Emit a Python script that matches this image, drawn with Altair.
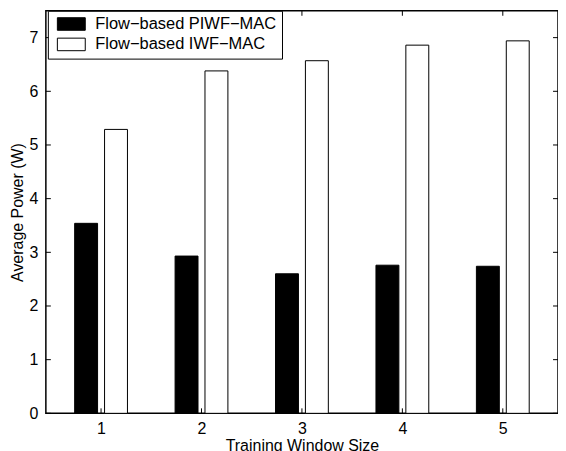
import altair as alt
import pandas as pd

windows = [1, 2, 3, 4, 5]
piwf = [3.54, 2.93, 2.60, 2.76, 2.74]
iwf = [5.29, 6.38, 6.57, 6.86, 6.94]
series_names = ["Flow\u2212based PIWF\u2212MAC", "Flow\u2212based IWF\u2212MAC"]
y_ticks = [0, 1, 2, 3, 4, 5, 6, 7]
x_ticks = [1, 2, 3, 4, 5]

FONT = "Liberation Sans"
W, H = 514, 404

df = pd.DataFrame({
    "window": windows * 2,
    "power": piwf + iwf,
    "series": [series_names[0]] * 5 + [series_names[1]] * 5,
})
ydf = pd.DataFrame({"window": [0.5] * len(y_ticks), "power": y_ticks})
xdf = pd.DataFrame({"window": x_ticks, "power": [0] * len(x_ticks)})

xscale = alt.Scale(domain=[0.5, 5.5], nice=False, zero=False)
yscale = alt.Scale(domain=[0, 7.5], nice=False)

color = alt.Color(
    "series:N",
    scale=alt.Scale(domain=series_names, range=["black", "white"]),
    sort=series_names,
    legend=alt.Legend(
        title=None,
        orient="none",
        legendX=2,
        legendY=0,
        symbolType="M-0.53,-0.9H3.47V0.9H-0.53Z",
        symbolSize=196,
        symbolStrokeColor="black",
        symbolStrokeWidth=1,
        labelFont=FONT,
        labelFontSize=16.5,
        labelColor="black",
        labelOffset=26,
        labelLimit=400,
        rowPadding=2.5,
        padding=5,
        strokeColor="black",
        fillColor="white",
        symbolOpacity=1,
        zindex=2,
    ),
)

xaxis = alt.Axis(
    values=x_ticks, title="Training Window Size", tickSize=0, domain=False, grid=False,
    labelFont=FONT, labelFontSize=16, labelColor="black", labelPadding=7,
    titleFont=FONT, titleFontSize=16, titleFontWeight="normal", titleColor="black",
    titlePadding=1,
)
yaxis = alt.Axis(
    values=y_ticks, title="Average Power (W)", tickSize=0, domain=False, grid=False,
    labelFont=FONT, labelFontSize=16, labelColor="black", labelPadding=8,
    titleFont=FONT, titleFontSize=16, titleFontWeight="normal", titleColor="black",
    titlePadding=4,
)

bars_black = alt.Chart(df).transform_filter(
    alt.datum.series == series_names[0]
).mark_bar(size=23, xOffset=-15, stroke="black", strokeWidth=1, opacity=1).encode(
    x=alt.X("window:Q", scale=xscale, axis=xaxis),
    y=alt.Y("power:Q", scale=yscale, axis=yaxis),
    color=color,
)
bars_white = alt.Chart(df).transform_filter(
    alt.datum.series == series_names[1]
).mark_bar(size=23, xOffset=15, stroke="black", strokeWidth=1, opacity=1).encode(
    x=alt.X("window:Q", scale=xscale, axis=xaxis),
    y=alt.Y("power:Q", scale=yscale, axis=yaxis),
    color=color,
)

ytick_left = alt.Chart(ydf).mark_rule(color="black", strokeWidth=1).encode(
    y=alt.Y("power:Q", scale=yscale, axis=yaxis), x=alt.value(0), x2=alt.value(5)
)
ytick_right = alt.Chart(ydf).mark_rule(color="black", strokeWidth=1).encode(
    y=alt.Y("power:Q", scale=yscale, axis=yaxis), x=alt.value(W - 5), x2=alt.value(W)
)
xtick_bottom = alt.Chart(xdf).mark_rule(color="black", strokeWidth=1).encode(
    x=alt.X("window:Q", scale=xscale, axis=xaxis), y=alt.value(H - 5), y2=alt.value(H)
)
xtick_top = alt.Chart(xdf).mark_rule(color="black", strokeWidth=1).encode(
    x=alt.X("window:Q", scale=xscale, axis=xaxis), y=alt.value(0), y2=alt.value(5)
)

chart = alt.layer(
    bars_black, bars_white, ytick_left, ytick_right, xtick_bottom, xtick_top
).properties(
    width=W, height=H,
    autosize=alt.AutoSizeParams(type="none"),
    padding={"left": 38, "top": 2, "right": 0, "bottom": 37},
    background="white",
).configure_view(
    stroke="black", strokeWidth=1.5
)

chart.save("out.html", embed_options={"renderer": "svg", "actions": False})
